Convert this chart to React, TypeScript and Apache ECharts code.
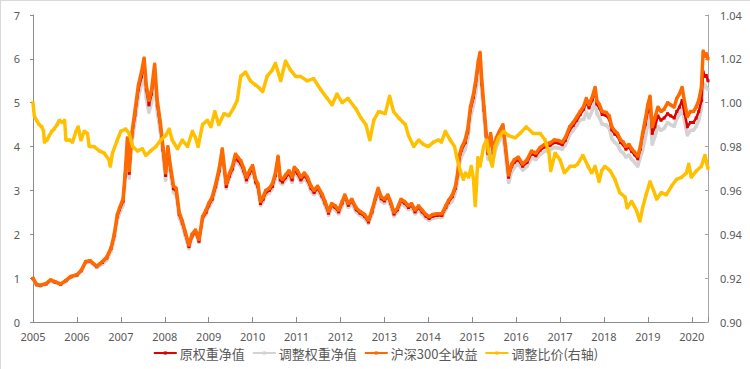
import React, { useEffect, useRef } from "react";
import * as echarts from "echarts";

// decimal-year dates for the three NAV series
const navDates = [
  2005.00, 2005.08, 2005.17, 2005.30, 2005.40, 2005.50, 2005.63, 2005.75, 2005.86,
  2006.00, 2006.10, 2006.20, 2006.30, 2006.45, 2006.58, 2006.68, 2006.78, 2006.85, 2006.92, 2006.97,
  2007.05, 2007.10, 2007.15, 2007.19, 2007.25, 2007.32, 2007.40, 2007.47, 2007.53, 2007.58, 2007.64, 2007.70, 2007.77, 2007.83, 2007.90, 2007.96,
  2008.02, 2008.07, 2008.13, 2008.20, 2008.26, 2008.33, 2008.40, 2008.47, 2008.55, 2008.62, 2008.70, 2008.78, 2008.86, 2008.94,
  2009.00, 2009.08, 2009.16, 2009.24, 2009.31, 2009.36, 2009.40, 2009.47, 2009.54, 2009.61, 2009.67, 2009.73, 2009.80, 2009.86, 2009.93,
  2010.00, 2010.07, 2010.12, 2010.18, 2010.24, 2010.30, 2010.38, 2010.45, 2010.52, 2010.58, 2010.63, 2010.68, 2010.75, 2010.83, 2010.90, 2010.95,
  2011.02, 2011.10, 2011.18, 2011.25, 2011.33, 2011.40, 2011.48, 2011.58, 2011.65, 2011.73, 2011.80, 2011.88, 2011.96,
  2012.04, 2012.10, 2012.18, 2012.26, 2012.36, 2012.45, 2012.55, 2012.64, 2012.72, 2012.80, 2012.86, 2012.93,
  2013.00, 2013.08, 2013.14, 2013.22, 2013.30, 2013.38, 2013.46, 2013.55, 2013.62, 2013.70, 2013.78, 2013.86, 2013.95,
  2014.02, 2014.10, 2014.20, 2014.31, 2014.40, 2014.46, 2014.55, 2014.62, 2014.67, 2014.71, 2014.76, 2014.84, 2014.90, 2014.96,
  2015.03, 2015.08, 2015.14, 2015.18, 2015.22, 2015.27, 2015.32, 2015.36, 2015.42, 2015.48, 2015.55, 2015.62, 2015.70, 2015.76, 2015.83, 2015.90, 2015.96,
  2016.05, 2016.15, 2016.25, 2016.35, 2016.45, 2016.55, 2016.65, 2016.77, 2016.87, 2016.96,
  2017.05, 2017.12, 2017.22, 2017.30, 2017.38, 2017.46, 2017.54, 2017.60, 2017.66, 2017.74, 2017.80, 2017.84, 2017.90, 2017.96,
  2018.05, 2018.12, 2018.18, 2018.25, 2018.31, 2018.38, 2018.44, 2018.50, 2018.57, 2018.63, 2018.70, 2018.77, 2018.83, 2018.88, 2018.94,
  2019.00, 2019.05, 2019.10, 2019.16, 2019.23, 2019.30, 2019.37, 2019.45, 2019.52, 2019.60, 2019.66, 2019.72, 2019.78, 2019.84, 2019.90, 2019.97,
  2020.04, 2020.10, 2020.16, 2020.22, 2020.26, 2020.30, 2020.33, 2020.37,
];

// 沪深300全收益
const hs300TR = [
  1.00, 0.86, 0.84, 0.88, 0.96, 0.92, 0.87, 0.95, 1.04,
  1.08, 1.18, 1.38, 1.40, 1.27, 1.38, 1.48, 1.70, 2.00, 2.45, 2.60,
  2.80, 3.40, 4.20, 3.45, 4.30, 4.80, 5.40, 5.70, 6.02, 5.40, 5.05, 5.30, 5.88, 5.05, 4.55, 4.00,
  3.40, 4.00, 3.55, 3.10, 3.05, 2.50, 2.30, 2.05, 1.75, 2.00, 2.10, 1.88, 2.40, 2.55,
  2.70, 2.85, 3.15, 3.50, 3.95, 3.50, 3.15, 3.38, 3.55, 3.83, 3.75, 3.68, 3.50, 3.30, 3.45,
  3.57, 3.25, 3.15, 2.75, 2.85, 3.00, 3.05, 3.15, 3.40, 3.78, 3.30, 3.25, 3.35, 3.45, 3.30, 3.53,
  3.45, 3.30, 3.40, 3.30, 3.10, 3.00, 3.10, 2.92, 2.75, 2.52, 2.70, 2.65, 2.55,
  2.75, 2.90, 2.70, 2.80, 2.60, 2.52, 2.45, 2.32, 2.55, 2.85, 3.05, 2.85,
  2.80, 2.90, 2.75, 2.50, 2.60, 2.80, 2.75, 2.65, 2.70, 2.55, 2.65, 2.55, 2.45,
  2.40, 2.45, 2.47, 2.47, 2.65, 2.77, 2.90, 3.10, 3.40, 3.80, 3.98, 4.15, 4.40, 4.90,
  5.20, 5.50, 5.95, 6.15, 5.50, 4.90, 4.30, 3.90, 4.30, 3.90, 4.20, 4.35, 4.50, 4.00, 3.35, 3.60, 3.70,
  3.76, 3.60, 3.70, 3.90, 3.85, 3.98, 4.05, 4.08, 4.15, 4.14,
  4.10, 4.20, 4.45, 4.55, 4.67, 4.80, 4.92, 5.10, 4.95, 5.15, 5.35, 5.05, 4.95, 4.80,
  4.78, 4.70, 4.45, 4.35, 4.30, 4.15, 4.10, 4.00, 4.05, 3.95, 3.87, 3.78, 4.00, 4.30, 4.60,
  4.95, 5.15, 4.45, 4.65, 4.90, 4.80, 4.85, 5.00, 4.95, 4.90, 5.10, 5.20, 5.35, 5.00, 4.68, 4.80,
  4.80, 4.90, 5.05, 5.35, 6.18, 6.05, 6.12, 6.00,
];

// 原权重净值
const origNav = [
  0.99, 0.85, 0.83, 0.87, 0.95, 0.91, 0.86, 0.94, 1.03,
  1.07, 1.17, 1.37, 1.39, 1.26, 1.36, 1.46, 1.68, 1.97, 2.41, 2.56,
  2.75, 3.34, 4.12, 3.39, 4.22, 4.71, 5.30, 5.59, 5.90, 5.30, 4.95, 5.20, 5.77, 4.95, 4.46, 3.92,
  3.34, 3.92, 3.48, 3.04, 2.99, 2.45, 2.26, 2.01, 1.72, 1.96, 2.06, 1.84, 2.36, 2.50,
  2.65, 2.80, 3.09, 3.44, 3.88, 3.44, 3.09, 3.32, 3.49, 3.76, 3.68, 3.61, 3.44, 3.24, 3.39,
  3.50, 3.19, 3.09, 2.70, 2.80, 2.95, 3.00, 3.09, 3.34, 3.71, 3.24, 3.19, 3.29, 3.39, 3.24, 3.47,
  3.39, 3.24, 3.34, 3.24, 3.05, 2.95, 3.05, 2.87, 2.71, 2.48, 2.66, 2.61, 2.51,
  2.71, 2.86, 2.66, 2.76, 2.56, 2.48, 2.41, 2.28, 2.51, 2.81, 3.00, 2.81,
  2.76, 2.86, 2.71, 2.46, 2.56, 2.76, 2.71, 2.61, 2.66, 2.51, 2.61, 2.51, 2.41,
  2.36, 2.41, 2.43, 2.43, 2.61, 2.73, 2.86, 3.05, 3.35, 3.74, 3.92, 4.09, 4.33, 4.83,
  5.12, 5.42, 5.86, 6.06, 5.42, 4.83, 4.24, 3.84, 4.24, 3.84, 4.14, 4.28, 4.43, 3.94, 3.30, 3.55, 3.64,
  3.70, 3.55, 3.64, 3.84, 3.79, 3.92, 3.99, 4.02, 4.09, 4.08,
  4.04, 4.14, 4.38, 4.48, 4.60, 4.73, 4.85, 5.02, 4.88, 5.07, 5.27, 4.97, 4.88, 4.73,
  4.71, 4.63, 4.38, 4.28, 4.24, 4.09, 4.04, 3.94, 3.99, 3.89, 3.81, 3.72, 3.94, 4.25, 4.50,
  4.80, 4.95, 4.30, 4.45, 4.70, 4.60, 4.65, 4.75, 4.70, 4.65, 4.80, 4.90, 5.05, 4.75, 4.45, 4.55,
  4.55, 4.65, 4.80, 5.05, 5.70, 5.60, 5.62, 5.50,
];

// 调整权重净值
const adjNav = [
  0.98, 0.84, 0.82, 0.86, 0.94, 0.90, 0.85, 0.93, 1.02,
  1.06, 1.16, 1.35, 1.37, 1.24, 1.32, 1.41, 1.62, 1.90, 2.33, 2.47,
  2.66, 3.23, 3.99, 3.28, 4.09, 4.56, 5.13, 5.42, 5.62, 5.10, 4.78, 5.00, 5.50, 4.78, 4.32, 3.80,
  3.23, 3.80, 3.37, 2.95, 2.90, 2.38, 2.19, 1.95, 1.67, 1.93, 2.03, 1.81, 2.32, 2.46,
  2.61, 2.75, 3.04, 3.38, 3.81, 3.38, 3.04, 3.26, 3.43, 3.70, 3.62, 3.55, 3.38, 3.18, 3.33,
  3.45, 3.14, 3.04, 2.65, 2.75, 2.90, 2.94, 3.04, 3.28, 3.65, 3.18, 3.14, 3.23, 3.33, 3.18, 3.41,
  3.33, 3.18, 3.28, 3.18, 2.99, 2.90, 2.99, 2.82, 2.65, 2.43, 2.61, 2.56, 2.46,
  2.65, 2.80, 2.61, 2.70, 2.51, 2.43, 2.36, 2.24, 2.46, 2.75, 2.94, 2.75,
  2.70, 2.80, 2.65, 2.41, 2.51, 2.70, 2.65, 2.56, 2.61, 2.46, 2.56, 2.46, 2.36,
  2.32, 2.36, 2.38, 2.38, 2.56, 2.67, 2.76, 2.95, 3.23, 3.61, 3.78, 3.94, 4.18, 4.66,
  4.94, 5.23, 5.65, 5.90, 5.23, 4.66, 4.09, 3.71, 4.09, 3.71, 3.99, 4.13, 4.28, 3.80, 3.18, 3.42, 3.52,
  3.61, 3.46, 3.55, 3.74, 3.70, 3.82, 3.89, 3.92, 3.98, 3.97,
  3.94, 4.03, 4.27, 4.37, 4.48, 4.61, 4.62, 4.79, 4.65, 4.84, 5.03, 4.75, 4.65, 4.51,
  4.49, 4.42, 4.18, 4.09, 4.04, 3.90, 3.85, 3.76, 3.81, 3.71, 3.64, 3.55, 3.76, 3.91, 4.19,
  4.50, 4.69, 4.05, 4.23, 4.46, 4.37, 4.41, 4.55, 4.50, 4.46, 4.64, 4.73, 4.87, 4.55, 4.26, 4.37,
  4.37, 4.46, 4.60, 4.87, 5.45, 5.40, 5.35, 5.30,
];

// 调整比价 (right axis)
const ratioDates = [
  2005.00, 2005.03, 2005.08, 2005.14, 2005.20, 2005.24, 2005.26, 2005.32, 2005.37, 2005.43, 2005.48, 2005.55, 2005.60, 2005.67, 2005.72, 2005.75, 2005.83, 2005.90, 2005.98,
  2006.03, 2006.09, 2006.17, 2006.24, 2006.28, 2006.39, 2006.51, 2006.62, 2006.73, 2006.76, 2006.81, 2006.92,
  2007.00, 2007.11, 2007.19, 2007.27, 2007.38, 2007.49, 2007.57, 2007.68, 2007.80, 2007.91,
  2008.02, 2008.10, 2008.17, 2008.29, 2008.40, 2008.52, 2008.63, 2008.70, 2008.76, 2008.86, 2008.97,
  2009.05, 2009.14, 2009.23, 2009.35, 2009.46, 2009.58, 2009.65, 2009.73, 2009.84, 2009.95,
  2010.07, 2010.14, 2010.23, 2010.33, 2010.45, 2010.52, 2010.64, 2010.75, 2010.86, 2010.98,
  2011.09, 2011.24, 2011.39, 2011.55, 2011.70, 2011.81, 2011.92,
  2012.04, 2012.17, 2012.36, 2012.47, 2012.58, 2012.67, 2012.76, 2012.87,
  2013.02, 2013.12, 2013.21, 2013.33, 2013.48, 2013.55, 2013.67, 2013.78, 2013.89,
  2014.00, 2014.12, 2014.23, 2014.30, 2014.39, 2014.50, 2014.60, 2014.65, 2014.73, 2014.80, 2014.85, 2014.92, 2014.98,
  2015.03, 2015.07, 2015.10, 2015.13, 2015.18, 2015.26, 2015.33, 2015.41, 2015.46, 2015.52, 2015.60, 2015.71, 2015.83, 2015.98,
  2016.09, 2016.23, 2016.39, 2016.55, 2016.66, 2016.75, 2016.79, 2016.89,
  2017.00, 2017.10, 2017.23, 2017.33, 2017.40, 2017.52, 2017.64, 2017.72, 2017.80, 2017.89, 2017.95,
  2018.02, 2018.14, 2018.25, 2018.36, 2018.48, 2018.53, 2018.63, 2018.74, 2018.82, 2018.88, 2018.96,
  2019.05, 2019.13, 2019.20, 2019.31, 2019.42, 2019.54, 2019.65, 2019.77, 2019.88, 2019.93, 2019.99,
  2020.11, 2020.22, 2020.30, 2020.37,
];

const adjRatio = [
  1.000, 0.994, 0.992, 0.990, 0.989, 0.987, 0.982, 0.983, 0.985, 0.987, 0.988, 0.990, 0.992, 0.991, 0.992, 0.983, 0.983, 0.982, 0.987,
  0.989, 0.983, 0.987, 0.986, 0.980, 0.980, 0.978, 0.977, 0.974, 0.971, 0.977, 0.983,
  0.987, 0.988, 0.986, 0.980, 0.978, 0.979, 0.976, 0.978, 0.980, 0.983,
  0.985, 0.988, 0.983, 0.979, 0.983, 0.980, 0.987, 0.984, 0.980, 0.990, 0.992,
  0.989, 0.996, 0.990, 0.995, 0.994, 0.998, 1.001, 1.012, 1.014, 1.010,
  1.008, 1.007, 1.005, 1.012, 1.015, 1.018, 1.010, 1.019, 1.015, 1.012,
  1.012, 1.010, 1.011, 1.006, 1.002, 0.999, 1.004,
  1.000, 1.002, 0.997, 0.993, 0.990, 0.983, 0.992, 0.996,
  0.995, 1.003, 0.996, 0.993, 0.990, 0.985, 0.980, 0.983, 0.981,
  0.980, 0.982, 0.983, 0.982, 0.987, 0.983, 0.980, 0.975, 0.969, 0.965, 0.968, 0.966, 0.971,
  0.965, 0.953, 0.963, 0.975, 0.971, 0.980, 0.983, 0.974, 0.971, 0.980, 0.984, 0.987, 0.985, 0.984,
  0.986, 0.989, 0.986, 0.986, 0.983, 0.977, 0.969, 0.977,
  0.974, 0.968, 0.971, 0.971, 0.972, 0.976, 0.971, 0.968, 0.971, 0.964, 0.969,
  0.971, 0.969, 0.965, 0.959, 0.957, 0.952, 0.955, 0.951, 0.946, 0.952, 0.958,
  0.964, 0.960, 0.956, 0.959, 0.958, 0.962, 0.965, 0.966, 0.968, 0.972, 0.966,
  0.969, 0.971, 0.976, 0.970,
];

const seriesNames = ["原权重净值", "调整权重净值", "沪深300全收益", "调整比价(右轴)"];
const seriesColors = ["#E00000", "#D3D3D3", "#FF6A00", "#FFC000"];
const yearTicks = [2005, 2020.37];
const leftTicks = [0, 7, 1];
const rightTicks = [0.9, 1.04, 0.02];

const TEXT = "#595959";
const AXIS = "#8C8C8C";
const CJK = "'Noto Sans CJK SC', sans-serif";
const LATIN = "'Noto Sans', 'Open Sans', sans-serif";

function pairs(d: number[], v: number[]) {
  return d.map((x, i) => [x, v[i]]);
}

export default function App() {
  const ref = useRef<HTMLDivElement>(null);
  useEffect(() => {
    if (!ref.current) return;
    const chart = echarts.init(ref.current, undefined, { renderer: "svg" });
    const mk = (idx: number, data: number[][], yAxisIndex: number, z: number, width: number) => ({
      name: seriesNames[idx],
      type: "line",
      yAxisIndex,
      data,
      symbol: "rect",
      symbolSize: 3,
      showSymbol: true,
      showAllSymbol: true,
      lineStyle: { color: seriesColors[idx], width },
      itemStyle: { color: seriesColors[idx] },
      z,
    });
    chart.setOption({
      animation: false,
      backgroundColor: "#fff",
      textStyle: { fontFamily: CJK },
      grid: { left: 32, right: 42, top: 14, bottom: 47 },
      legend: {
        bottom: 3,
        left: "center",
        itemWidth: 23,
        itemHeight: 4,
        itemGap: 7,
        lineStyle: { width: 2 },
        textStyle: { color: TEXT, fontSize: 13, fontFamily: CJK, lineHeight: 16, padding: [0, 0, 0, -2] },
        data: seriesNames,
      },
      xAxis: {
        type: "value",
        min: yearTicks[0],
        max: yearTicks[1],
        interval: 1,
        splitLine: { show: false },
        axisLine: { lineStyle: { color: AXIS } },
        axisTick: { inside: true, length: 5, lineStyle: { color: AXIS } },
        axisLabel: {
          color: TEXT,
          fontSize: 11,
          fontFamily: LATIN,
          margin: 9,
          formatter: (v: number) => (Math.abs(v - Math.round(v)) < 1e-6 ? String(Math.round(v)) : ""),
        },
      },
      yAxis: [
        {
          type: "value",
          min: leftTicks[0],
          max: leftTicks[1],
          interval: leftTicks[2],
          splitLine: { show: false },
          axisLine: { show: true, lineStyle: { color: AXIS } },
          axisTick: { show: true, length: 3, lineStyle: { color: AXIS } },
          axisLabel: { color: TEXT, fontSize: 11, fontFamily: LATIN, margin: 13 },
        },
        {
          type: "value",
          position: "right",
          min: rightTicks[0],
          max: rightTicks[1],
          interval: rightTicks[2],
          splitLine: { show: false },
          axisLine: { show: true, lineStyle: { color: "#A6A6A6" } },
          axisTick: { show: true, inside: true, length: 3, lineStyle: { color: "#A6A6A6" } },
          axisLabel: {
            color: TEXT,
            fontSize: 11,
            fontFamily: LATIN,
            margin: 12,
            formatter: (v: number) => v.toFixed(2),
          },
        },
      ],
      series: [
        mk(1, pairs(navDates, adjNav), 0, 1, 3.5),
        mk(0, pairs(navDates, origNav), 0, 2, 2.5),
        mk(2, pairs(navDates, hs300TR), 0, 3, 3.5),
        mk(3, pairs(ratioDates, adjRatio), 1, 4, 3.5),
      ],
    });
    return () => chart.dispose();
  }, []);
  return (
    <div
      ref={ref}
      style={{
        position: "fixed",
        left: 0,
        top: 0,
        width: 750,
        height: 369,
        boxSizing: "border-box",
        borderTop: "1px solid #D9D9D9",
        borderLeft: "1px solid #D9D9D9",
        background: "#fff",
      }}
    />
  );
}
